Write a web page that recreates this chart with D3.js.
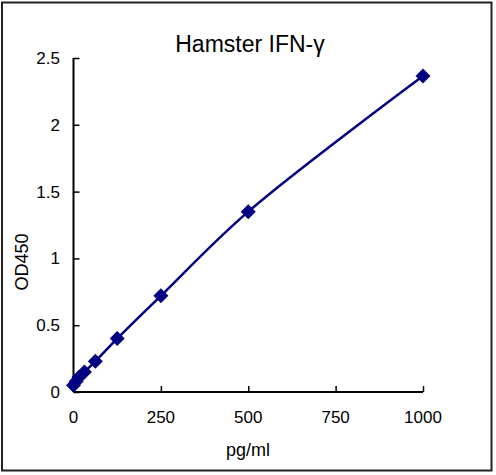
<!DOCTYPE html>
<html>
<head>
<meta charset="utf-8">
<script src="https://cdn.jsdelivr.net/npm/d3@7"></script>
<style>
  body { margin: 0; background: #fff; }
  svg text { font-family: "Liberation Sans", Arial, sans-serif; fill: #000; }
</style>
</head>
<body>
<svg id="chart" width="496" height="475"></svg>
<script>
// standard curve data
const concentrations = [0, 7.8, 15.6, 31.25, 62.5, 125, 250, 500, 1000];
const odValues = [0.05, 0.08, 0.11, 0.15, 0.23, 0.40, 0.72, 1.35, 2.365];
const xTicks = [0, 250, 500, 750, 1000];
const yTicks = [0, 0.5, 1, 1.5, 2, 2.5];
const yTickLabels = ["0", "0.5", "1", "1.5", "2", "2.5"];

const svg = d3.select("#chart");

// outer frame
svg.append("rect")
    .attr("x", 2)
    .attr("y", 2.5)
    .attr("width", 489.5)
    .attr("height", 468)
    .attr("fill", "none")
    .attr("stroke", "#222")
    .attr("stroke-width", 2);

const x = d3.scaleLinear().domain([0, 1000]).range([73.5, 423]);
const y = d3.scaleLinear().domain([0, 2.5]).range([392, 58]);

// x axis, ticks pointing inward
const xAxis = svg.append("g")
    .attr("transform", "translate(0," + y(0) + ")")
    .call(d3.axisTop(x).tickValues(xTicks).tickSize(6).tickSizeOuter(0).tickFormat(""));
xAxis.select(".domain").attr("stroke-width", 2).attr("d", "M" + x(0) + ",0H" + x(1000));
xAxis.selectAll(".tick line").attr("stroke-width", 1.5);

svg.append("g").selectAll("text")
    .data(xTicks)
    .enter()
    .append("text")
    .attr("x", function (d) { return x(d); })
    .attr("y", 423)
    .attr("text-anchor", "middle")
    .style("font-size", "17px")
    .text(function (d) { return d; });

// y axis
const yAxis = svg.append("g")
    .attr("transform", "translate(" + x(0) + ",0)")
    .call(d3.axisRight(y).tickValues(yTicks).tickSize(6).tickSizeOuter(0).tickFormat(""));
yAxis.select(".domain").attr("stroke-width", 2).attr("d", "M0," + y(2.5) + "V" + y(0));
yAxis.selectAll(".tick line").attr("stroke-width", 1.5);

svg.append("g").selectAll("text")
    .data(yTicks)
    .enter()
    .append("text")
    .attr("x", 60)
    .attr("y", function (d) { return y(d); })
    .attr("dy", "0.35em")
    .attr("text-anchor", "end")
    .style("font-size", "17px")
    .text(function (d, i) { return yTickLabels[i]; });

// titles
svg.append("text")
    .attr("x", 250)
    .attr("y", 52)
    .attr("text-anchor", "middle")
    .style("font-size", "23px")
    .text("Hamster IFN-γ");

svg.append("text")
    .attr("x", 248)
    .attr("y", 456)
    .attr("text-anchor", "middle")
    .style("font-size", "18px")
    .text("pg/ml");

svg.append("text")
    .attr("transform", "translate(28,262) rotate(-90)")
    .attr("text-anchor", "middle")
    .style("font-size", "18px")
    .text("OD450");

// smoothed line through the standards
const points = concentrations.map(function (c, i) { return [c, odValues[i]]; });
const line = d3.line()
    .x(function (d) { return x(d[0]); })
    .y(function (d) { return y(d[1]); })
    .curve(d3.curveCatmullRom.alpha(0.5));

svg.append("path")
    .datum(points)
    .attr("d", line)
    .attr("fill", "none")
    .attr("stroke", "#000080")
    .attr("stroke-width", 2.5);

// diamond markers
const half = 7.5;
svg.append("g").selectAll("path")
    .data(points)
    .enter()
    .append("path")
    .attr("d", function (d) {
        let cx = x(d[0]), cy = y(d[1]);
        return "M" + cx + "," + (cy - half) + "L" + (cx + half) + "," + cy +
            "L" + cx + "," + (cy + half) + "L" + (cx - half) + "," + cy + "Z";
    })
    .attr("fill", "#000080");
</script>
</body>
</html>
